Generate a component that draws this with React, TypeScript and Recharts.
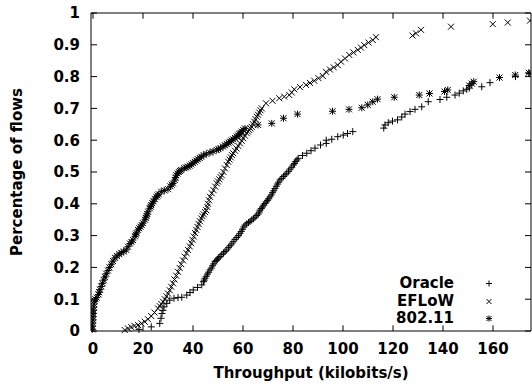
import { Legend, ReferenceArea, ReferenceLine, Scatter, ScatterChart, XAxis, YAxis } from "recharts";

const oraclePoints: [number, number][] = [
  [18.4, 0.005], [23.3, 0.013], [26.7, 0.024], [27.2, 0.04], [27.6, 0.055], [28, 0.065], [28.4, 0.076],
  [29.5, 0.087], [30.7, 0.097], [32.4, 0.103], [34, 0.105], [35.5, 0.106], [37.5, 0.113], [38.8, 0.121],
  [40.1, 0.129], [41.8, 0.137], [43.5, 0.145], [44.2, 0.155], [44.5, 0.16], [44.8, 0.166], [45.3, 0.172],
  [45.8, 0.179], [46.3, 0.185], [46.8, 0.192], [47.3, 0.198], [47.8, 0.205], [48.3, 0.211], [48.8, 0.218],
  [49.3, 0.222], [49.8, 0.226], [50.3, 0.23], [50.8, 0.234], [51.5, 0.24], [52.2, 0.245], [52.8, 0.25],
  [53.5, 0.255], [54.2, 0.262], [54.8, 0.268], [55.5, 0.274], [56.1, 0.281], [56.8, 0.288], [57.5, 0.294],
  [58.2, 0.3], [58.8, 0.307], [59.3, 0.313], [59.8, 0.32], [60.3, 0.327], [60.8, 0.333], [61.5, 0.337],
  [62.2, 0.341], [62.8, 0.345], [63.5, 0.349], [64.2, 0.353], [64.8, 0.358], [65.5, 0.363], [66.1, 0.368],
  [66.5, 0.374], [66.8, 0.38], [67.3, 0.385], [67.8, 0.39], [68.3, 0.396], [68.8, 0.401], [69.3, 0.406],
  [69.8, 0.411], [70.3, 0.416], [70.8, 0.422], [71.3, 0.428], [71.8, 0.435], [72.3, 0.441], [72.8, 0.448],
  [73.3, 0.455], [73.8, 0.462], [74.3, 0.468], [74.8, 0.475], [75.5, 0.48], [76.2, 0.486], [76.8, 0.491],
  [77.5, 0.496], [78.2, 0.502], [78.8, 0.509], [79.5, 0.515], [80.1, 0.522], [80.6, 0.527], [81.1, 0.533],
  [81.6, 0.538], [82.1, 0.543], [83.8, 0.552], [85.5, 0.559], [87.2, 0.567], [88.8, 0.575], [91, 0.585],
  [93.3, 0.59], [93.3, 0.6], [95.5, 0.603], [97.9, 0.611], [100.1, 0.616], [101.8, 0.621], [103.9, 0.627],
  [116.3, 0.638], [116.8, 0.648], [118.1, 0.655], [119.8, 0.66], [121.8, 0.664], [123.5, 0.673],
  [124.8, 0.682], [126.8, 0.69], [128.8, 0.697], [131.5, 0.705], [134.1, 0.721], [138.8, 0.728],
  [141.5, 0.735], [144.8, 0.742], [146.5, 0.748], [148.1, 0.755], [149.5, 0.76], [150.5, 0.764],
  [155.5, 0.768], [158.8, 0.781], [169, 0.8], [174.5, 0.81]
];

const eflowPoints: [number, number][] = [
  [12.7, 0.003], [14, 0.008], [15.3, 0.012], [16.6, 0.016], [18, 0.019], [19.4, 0.024], [20.7, 0.029],
  [22, 0.037], [23.3, 0.047], [24.6, 0.058], [26, 0.071], [26.7, 0.078], [27.3, 0.085], [28, 0.092],
  [28.7, 0.1], [29.4, 0.109], [30, 0.118], [30.7, 0.128], [31.3, 0.139], [32, 0.15], [32.6, 0.162],
  [33.3, 0.174], [34, 0.186], [34.7, 0.198], [35.3, 0.21], [36, 0.222], [36.7, 0.234], [37.4, 0.245],
  [38, 0.255], [38.7, 0.266], [39.3, 0.276], [39.8, 0.287], [40.3, 0.297], [40.8, 0.308], [41.3, 0.318],
  [41.8, 0.327], [42.3, 0.336], [42.8, 0.345], [43.3, 0.354], [43.8, 0.361], [44.3, 0.367], [44.8, 0.374],
  [45.3, 0.38], [45.7, 0.39], [46, 0.4], [46.4, 0.411], [46.8, 0.422], [47.5, 0.433], [48.2, 0.443],
  [48.9, 0.454], [49.5, 0.464], [50, 0.47], [50.5, 0.477], [51, 0.484], [51.5, 0.49], [52.2, 0.5],
  [52.8, 0.511], [53.5, 0.522], [54.1, 0.532], [54.6, 0.539], [55.1, 0.546], [55.6, 0.553], [56.1, 0.559],
  [56.8, 0.567], [57.4, 0.574], [58.1, 0.582], [58.8, 0.59], [59.5, 0.598], [60.1, 0.606], [60.8, 0.614],
  [61.5, 0.622], [62, 0.627], [62.5, 0.632], [63, 0.637], [63.5, 0.642], [64, 0.65], [64.5, 0.658],
  [65, 0.666], [65.5, 0.674], [66, 0.68], [66.5, 0.687], [67, 0.694], [67.5, 0.7], [69.2, 0.716],
  [71.8, 0.724], [74.5, 0.732], [76.5, 0.737], [78.5, 0.742], [79.5, 0.75], [80.5, 0.76], [82.8, 0.767],
  [85.2, 0.774], [86.8, 0.78], [88.5, 0.787], [90.2, 0.795], [91.9, 0.802], [93.2, 0.815], [94.8, 0.822],
  [96.3, 0.829], [97.9, 0.836], [99.2, 0.847], [100.8, 0.857], [102.5, 0.868], [104.2, 0.876],
  [105.9, 0.884], [107.2, 0.891], [108.5, 0.899], [110.2, 0.907], [111.9, 0.915], [113.2, 0.924],
  [127.8, 0.929], [129.2, 0.936], [131.2, 0.947], [143.2, 0.957], [159.9, 0.965], [165.9, 0.97],
  [174.8, 0.976]
];

const wifiPoints: [number, number][] = [
  [-0.3, 0.005], [-0.2, 0.015], [-0.1, 0.025], [0, 0.035], [0, 0.045], [0.1, 0.055], [0.2, 0.065],
  [0.3, 0.075], [0.4, 0.085], [0.6, 0.095], [1, 0.1], [1.5, 0.105], [2.2, 0.115], [2.5, 0.122],
  [2.8, 0.13], [3.3, 0.14], [3.8, 0.15], [4.3, 0.16], [4.8, 0.17], [5.3, 0.18], [6, 0.19], [6.6, 0.2],
  [7.3, 0.21], [8, 0.22], [8.8, 0.23], [9.6, 0.236], [10.5, 0.242], [11.3, 0.246], [12.3, 0.25],
  [13.3, 0.255], [14, 0.265], [14.8, 0.275], [15.4, 0.28], [16, 0.286], [16.8, 0.298], [17.1, 0.303],
  [17.4, 0.308], [18, 0.318], [18.5, 0.323], [19, 0.328], [19.5, 0.333], [20, 0.339], [20.8, 0.35],
  [21.1, 0.356], [21.4, 0.362], [21.7, 0.368], [22, 0.375], [22.7, 0.386], [23, 0.391], [23.3, 0.396],
  [23.7, 0.402], [24.2, 0.408], [24.7, 0.415], [25.3, 0.422], [25.8, 0.426], [26.3, 0.43], [27.3, 0.438],
  [28.5, 0.442], [30, 0.446], [31, 0.455], [31.5, 0.46], [32, 0.464], [32.7, 0.475], [33, 0.482],
  [33.3, 0.49], [33.8, 0.495], [34.3, 0.5], [34.8, 0.503], [35.3, 0.506], [36.5, 0.512], [37.2, 0.514],
  [38, 0.517], [38.7, 0.52], [39.3, 0.524], [40, 0.528], [40.7, 0.532], [41.3, 0.536], [42, 0.54],
  [42.7, 0.544], [43.3, 0.548], [44.3, 0.553], [45.3, 0.557], [46.8, 0.561], [48, 0.565], [49.5, 0.569],
  [50.2, 0.572], [51, 0.575], [52, 0.58], [52.8, 0.584], [53.5, 0.588], [54.2, 0.592], [54.8, 0.595],
  [55.4, 0.599], [56, 0.603], [56.8, 0.607], [57.5, 0.611], [58, 0.615], [58.5, 0.62], [59, 0.623],
  [59.5, 0.627], [60.1, 0.632], [60.8, 0.637], [66, 0.648], [71.5, 0.653], [76.2, 0.669], [81.8, 0.682],
  [95.8, 0.691], [102.4, 0.697], [107.5, 0.702], [109.9, 0.711], [111.9, 0.721], [113.8, 0.729],
  [120.5, 0.735], [130.5, 0.742], [134.6, 0.747], [140.6, 0.753], [141.9, 0.758], [150.5, 0.772],
  [151.5, 0.778], [152.3, 0.784], [162.6, 0.797], [168.9, 0.805], [174.3, 0.812]
];

const seriesNames = ["Oracle", "EFLoW", "802.11"];
const xTicks = [0, 20, 40, 60, 80, 100, 120, 140, 160];
const yTicks = [0, 0.1, 0.2, 0.3, 0.4, 0.5, 0.6, 0.7, 0.8, 0.9, 1];

const X_MIN = -0.8;
const X_MAX = 175.2;
const FONT = "'DejaVu Sans', sans-serif";

const toRows = (pts: [number, number][]) => pts.map(([x, y]) => ({ x, y }));

function Mark({ cx, cy, kind, r = 3 }: { cx: number; cy: number; kind: number; r?: number }) {
  const plus = `M${cx - r - 0.5},${cy}H${cx + r + 0.5}M${cx},${cy - r - 0.5}V${cy + r + 0.5}`;
  const cross = `M${cx - r},${cy - r}L${cx + r},${cy + r}M${cx + r},${cy - r}L${cx - r},${cy + r}`;
  const d = kind === 0 ? plus : kind === 1 ? cross : plus + cross;
  return <path d={d} stroke="#000" strokeWidth={1} fill="none" />;
}

function LegendBox() {
  return (
    <div style={{ fontFamily: FONT, fontWeight: "bold", fontSize: 15, color: "#000" }}>
      {seriesNames.map((name, i) => (
        <div key={name} style={{ display: "flex", alignItems: "center", height: 17.5 }}>
          <div style={{ width: 74, textAlign: "right", lineHeight: "17.5px" }}>{name}</div>
          <svg width={40} height={17}>
            <Mark cx={35} cy={8.5} kind={i} r={2.5} />
          </svg>
        </div>
      ))}
    </div>
  );
}

export default function App() {
  const tickStyle = { fontFamily: FONT, fontWeight: "bold", fontSize: 15, fill: "#000" };
  return (
    <div style={{ position: "absolute", left: 0, top: 0, background: "#fff" }}>
      <ScatterChart width={532} height={386} margin={{ top: 13, right: 1, bottom: 25, left: 31 }}>
        <XAxis
          type="number"
          dataKey="x"
          domain={[X_MIN, X_MAX]}
          ticks={xTicks}
          allowDataOverflow
          axisLine={false}
          tickLine={false}
          tickSize={0}
          tickMargin={12}
          height={30}
          tick={tickStyle}
          label={{
            content: ({ viewBox }: any) => (
              <text x={viewBox.x + viewBox.width / 2} y={viewBox.y + 47} textAnchor="middle" style={tickStyle}>
                Throughput (kilobits/s)
              </text>
            )
          }}
        />
        <YAxis
          type="number"
          dataKey="y"
          domain={[0, 1]}
          ticks={yTicks}
          axisLine={false}
          tickLine={false}
          tickSize={0}
          tickMargin={11}
          width={60}
          tick={tickStyle}
          tickFormatter={(v: number) => (v === 0 || v === 1 ? String(v) : v.toFixed(1))}
          label={{
            content: ({ viewBox }: any) => {
              const cx = viewBox.x - 9;
              const cy = viewBox.y + viewBox.height / 2;
              return (
                <text x={cx} y={cy} textAnchor="middle" transform={`rotate(-90 ${cx} ${cy})`} style={tickStyle}>
                  Percentage of flows
                </text>
              );
            }
          }}
        />
        <ReferenceArea x1={X_MIN} x2={X_MAX} y1={0} y2={1} fill="none" stroke="#000" strokeWidth={1} strokeOpacity={1} />
        {xTicks.map((t) => (
          <ReferenceLine key={`xb${t}`} segment={[{ x: t, y: 0 }, { x: t, y: 0.018 }]} stroke="#000" />
        ))}
        {xTicks.map((t) => (
          <ReferenceLine key={`xt${t}`} segment={[{ x: t, y: 1 }, { x: t, y: 0.982 }]} stroke="#000" />
        ))}
        {yTicks.map((t) => (
          <ReferenceLine key={`yl${t}`} segment={[{ x: X_MIN, y: t }, { x: X_MIN + 2.4, y: t }]} stroke="#000" />
        ))}
        {yTicks.map((t) => (
          <ReferenceLine key={`yr${t}`} segment={[{ x: X_MAX, y: t }, { x: X_MAX - 2.4, y: t }]} stroke="#000" />
        ))}
        <Scatter
          name={seriesNames[0]}
          data={toRows(oraclePoints)}
          isAnimationActive={false}
          shape={(p: any) => <Mark cx={p.cx} cy={p.cy} kind={0} />}
        />
        <Scatter
          name={seriesNames[1]}
          data={toRows(eflowPoints)}
          isAnimationActive={false}
          shape={(p: any) => <Mark cx={p.cx} cy={p.cy} kind={1} />}
        />
        <Scatter
          name={seriesNames[2]}
          data={toRows(wifiPoints)}
          isAnimationActive={false}
          shape={(p: any) => <Mark cx={p.cx} cy={p.cy} kind={2} />}
        />
        <Legend
          layout="horizontal"
          align="center"
          verticalAlign="middle"
          wrapperStyle={{ left: 380, top: 275, width: 120, height: 54 }}
          content={() => <LegendBox />}
        />
      </ScatterChart>
    </div>
  );
}
